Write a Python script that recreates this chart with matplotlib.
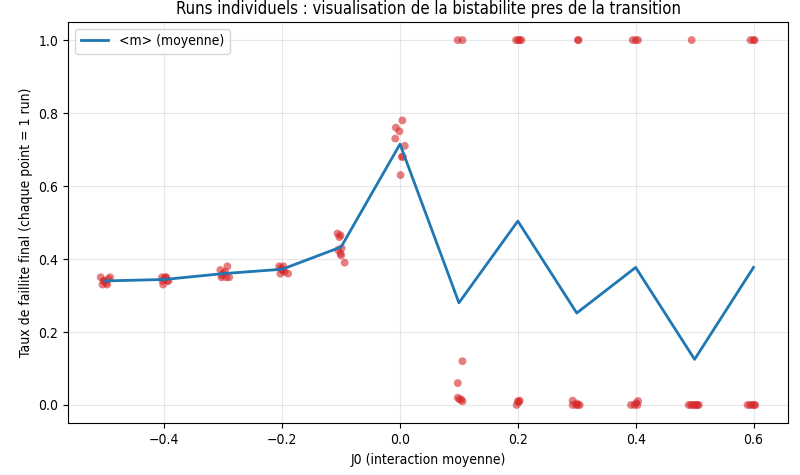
import matplotlib
matplotlib.use("Agg")
import matplotlib.pyplot as plt
import numpy as np

plt.rcParams['font.family'] = ['DejaVu Sans']
plt.rcParams['font.stretch'] = 'condensed'

# moyenne par J0
j0 = [-0.5, -0.4, -0.3, -0.2, -0.1, 0.0, 0.1, 0.2, 0.3, 0.4, 0.5, 0.6]
m_mean = [0.340, 0.344, 0.360, 0.372, 0.433, 0.715, 0.280, 0.504, 0.252, 0.377, 0.125, 0.377]

# runs individuels (J0 avec jitter, taux final)
run_x = [
    -0.508, -0.492, -0.505, -0.497, -0.502, -0.499, -0.495, -0.503,
    -0.404, -0.398, -0.395, -0.402, -0.393, -0.400, -0.397, -0.403,
    -0.293, -0.305, -0.297, -0.300, -0.303, -0.295, -0.302, -0.290,
    -0.205, -0.198, -0.202, -0.200, -0.203, -0.190, -0.196, -0.199,
    -0.106, -0.101, -0.103, -0.099, -0.105, -0.101, -0.100, -0.094,
    0.004, -0.007, -0.001, -0.008, 0.008, 0.005, 0.003, 0.001,
    0.098, 0.106, 0.106, 0.098, 0.098, 0.104, 0.106, 0.101,
    0.197, 0.201, 0.206, 0.203, 0.198, 0.200, 0.203, 0.202,
    0.303, 0.302, 0.293, 0.293, 0.299, 0.302, 0.305, 0.300,
    0.395, 0.400, 0.404, 0.392, 0.398, 0.404, 0.401, 0.403,
    0.495, 0.490, 0.494, 0.497, 0.500, 0.503, 0.505, 0.507,
    0.595, 0.600, 0.602, 0.590, 0.594, 0.598, 0.601, 0.603,
]
run_y = [
    0.35, 0.35, 0.33, 0.33, 0.34, 0.335, 0.345, 0.34,
    0.35, 0.35, 0.34, 0.33, 0.34, 0.345, 0.35, 0.34,
    0.38, 0.37, 0.365, 0.36, 0.35, 0.35, 0.355, 0.35,
    0.38, 0.38, 0.375, 0.37, 0.36, 0.36, 0.365, 0.37,
    0.47, 0.465, 0.46, 0.43, 0.425, 0.415, 0.41, 0.39,
    0.78, 0.76, 0.75, 0.73, 0.71, 0.68, 0.68, 0.63,
    1.0, 1.0, 0.12, 0.06, 0.02, 0.015, 0.01, 0.015,
    1.0, 1.0, 1.0, 1.0, 0.0, 0.01, 0.012, 0.008,
    1.0, 1.0, 0.012, 0.0, 0.0, 0.0, 0.0, 0.004,
    1.0, 1.0, 1.0, 0.0, 0.0, 0.011, 0.005, 0.0,
    1.0, 0.0, 0.0, 0.0, 0.0, 0.0, 0.0, 0.0,
    1.0, 1.0, 1.0, 0.0, 0.0, 0.0, 0.0, 0.0,
]

fig, ax = plt.subplots(figsize=(8, 4.75), dpi=100)
ax.scatter(run_x, run_y, s=32, color='#d62728', alpha=0.6, edgecolors='none', zorder=2)
ax.plot(j0, m_mean, color='#1f77b4', lw=2, label='<m> (moyenne)', zorder=3)

ax.set_title('Runs individuels : visualisation de la bistabilite pres de la transition', fontsize=12)
ax.set_xlabel('J0 (interaction moyenne)', fontsize=10)
ax.set_ylabel('Taux de faillite final (chaque point = 1 run)', fontsize=10)
ax.tick_params(labelsize=10)
ax.grid(True, alpha=0.3)
ax.legend(loc='upper left', fontsize=10)

fig.subplots_adjust(left=0.085, right=0.985, top=0.954, bottom=0.109)
fig.savefig('out.png')
